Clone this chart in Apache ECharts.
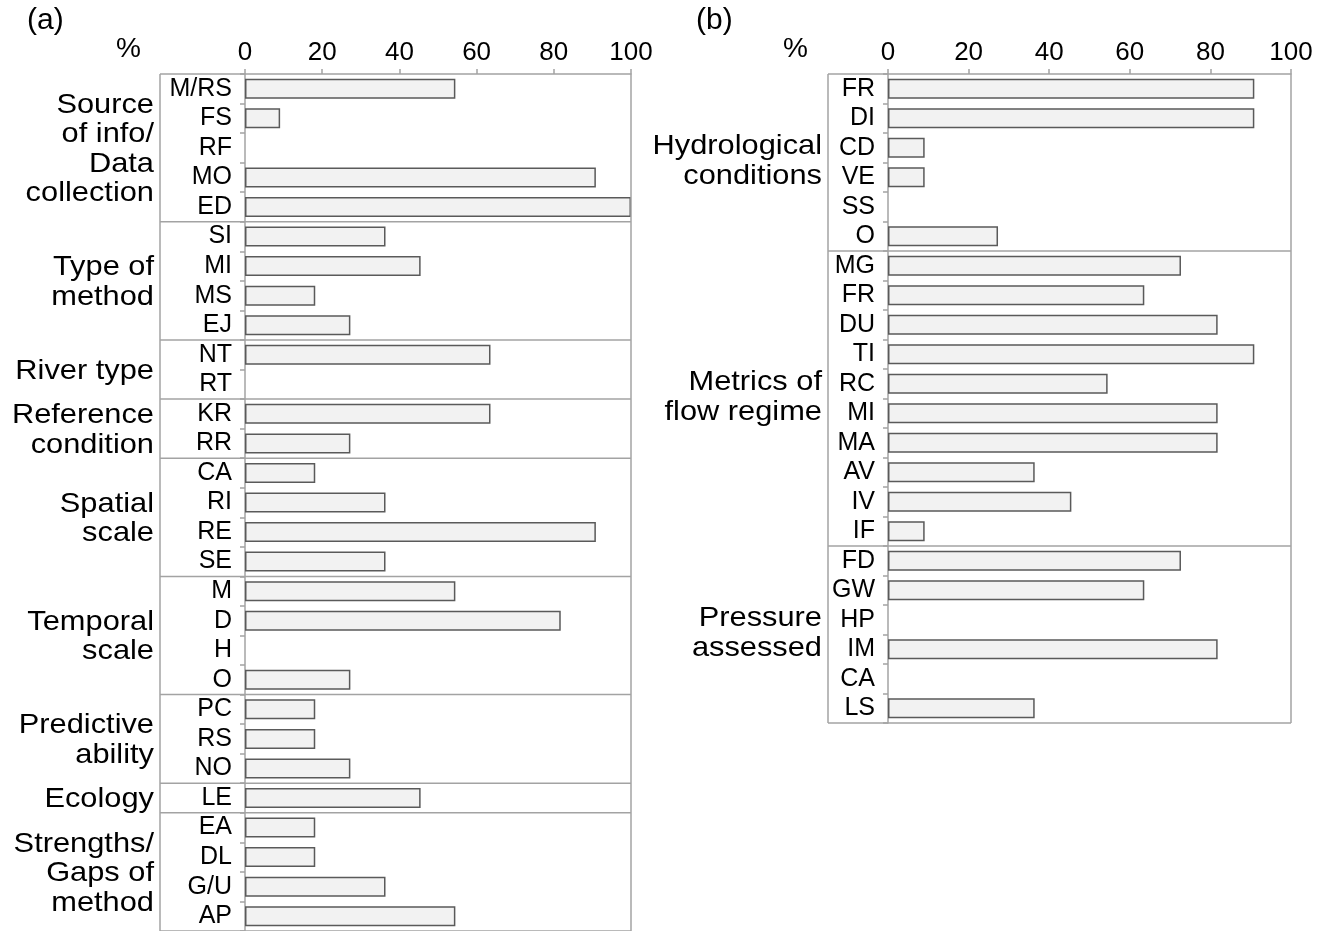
<!DOCTYPE html>
<html><head><meta charset="utf-8">
<script src="https://cdn.jsdelivr.net/npm/echarts@6/dist/echarts.min.js"></script>
<style>html,body{margin:0;padding:0;background:#fff}#c{width:1326px;height:931px}</style>
</head><body><div id="c"></div>
<script>
// ---- data ----
const catsA = ['M/RS','FS','RF','MO','ED','SI','MI','MS','EJ','NT','RT','KR','RR','CA','RI','RE','SE','M','D','H','O','PC','RS','NO','LE','EA','DL','G/U','AP'];
const valsA = [54.5,9.1,0,90.9,100,36.4,45.5,18.2,27.3,63.6,0,63.6,27.3,18.2,36.4,90.9,36.4,54.5,81.8,0,27.3,18.2,18.2,27.3,45.5,18.2,18.2,36.4,54.5];
const groupNamesA = ['Source\nof info/\nData\ncollection','Type of\nmethod','River type','Reference\ncondition','Spatial\nscale','Temporal\nscale','Predictive\nability','Ecology','Strengths/\nGaps of\nmethod'];
const groupSizesA = [5,4,2,2,4,4,3,1,4];

const catsB = ['FR','DI','CD','VE','SS','O','MG','FR','DU','TI','RC','MI','MA','AV','IV','IF','FD','GW','HP','IM','CA','LS'];
const valsB = [90.9,90.9,9.1,9.1,0,27.3,72.7,63.6,81.8,90.9,54.5,81.8,81.8,36.4,45.5,9.1,72.7,63.6,0,81.8,0,36.4];
const groupNamesB = ['Hydrological\nconditions','Metrics of\nflow regime','Pressure\nassessed'];
const groupSizesB = [6,10,6];

const xMin = 0, xMax = 100, xStep = 20;
const panelLabels = ['(a)','(b)'];
const unitLabel = '%';

// ---- style ----
const FONT = '"Liberation Sans", Arial, sans-serif';
const LINE = '#a3a3a3';
const TXT = '#000';

const chart = echarts.init(document.getElementById('c'), null, {renderer:'canvas'});

function xAx(gi){
  return {type:'value', gridIndex:gi, position:'top', min:xMin, max:xMax, interval:xStep,
    axisLine:{show:true, lineStyle:{color:LINE, width:1.5}},
    axisTick:{show:true, length:5, lineStyle:{color:LINE, width:1.5}},
    axisLabel:{fontFamily:FONT, fontSize:26, color:TXT, margin:8},
    splitLine:{show:false}};
}
function yAx(gi, cats){
  return {type:'category', gridIndex:gi, data:cats, inverse:true,
    axisLine:{show:true, lineStyle:{color:LINE, width:1.5}},
    axisTick:{show:true, length:5, lineStyle:{color:LINE, width:1.5}},
    axisLabel:{fontFamily:FONT, fontSize:25, color:TXT, margin:13, interval:0},
    splitLine:{show:false}};
}
function barS(gi, vals){
  return {type:'bar', xAxisIndex:gi, yAxisIndex:gi, barWidth:20, silent:true,
    data: vals.map(v => v === 0 ? {value:v, itemStyle:{borderWidth:0}} : v),
    itemStyle:{color:'#f2f2f2', borderColor:'#5a5a5a', borderWidth:1.5}};
}

chart.setOption({
  animation:false,
  backgroundColor:'#fff',
  title:[
    {text:panelLabels[0], left:27, top:6, padding:0, textStyle:{fontFamily:FONT, fontSize:30, fontWeight:'normal', color:TXT}},
    {text:panelLabels[1], left:696, top:6, padding:0, textStyle:{fontFamily:FONT, fontSize:30, fontWeight:'normal', color:TXT}},
    {text:unitLabel, left:116, top:35, padding:0, textStyle:{fontFamily:FONT, fontSize:28, fontWeight:'normal', color:TXT}},
    {text:unitLabel, left:783, top:35, padding:0, textStyle:{fontFamily:FONT, fontSize:28, fontWeight:'normal', color:TXT}}
  ],
  grid:[
    {left:245, top:74, width:386, height:858, containLabel:false},
    {left:888, top:74, width:403, height:649, containLabel:false}
  ],
  xAxis:[xAx(0), xAx(1)],
  yAxis:[yAx(0, catsA), yAx(1, catsB)],
  series:[barS(0, valsA), barS(1, valsB)]
});

function decor(gi, cats, sizes, names, boxPad, dy){
  const els = [];
  const yc = i => chart.convertToPixel({yAxisIndex:gi}, i);
  const x0 = chart.convertToPixel({xAxisIndex:gi}, xMin);
  const x1 = chart.convertToPixel({xAxisIndex:gi}, xMax);
  const half = (yc(1) - yc(0)) / 2;
  const top = yc(0) - half, bottom = yc(cats.length - 1) + half;
  const bl = x0 - boxPad;
  const ls = {stroke:LINE, lineWidth:1.5};
  const line = (a,b,c,d) => els.push({type:'line', silent:true, z:5, shape:{x1:a,y1:b,x2:c,y2:d}, style:ls});
  line(bl, top, x0, top);
  line(bl, top, bl, bottom);
  line(x1, top, x1, bottom);
  line(bl, bottom, x1, bottom);
  let k = 0;
  sizes.forEach((s, gIdx) => {
    const first = k, last = k + s - 1;
    if (gIdx > 0) { const y = yc(first) - half; line(bl, y, x1, y); }
    const cy = (yc(first) + yc(last)) / 2;
    els.push({type:'text', silent:true, z:6, x:bl - 6, y:cy + dy, scaleX:1.1, scaleY:1,
      style:{text:names[gIdx], x:0, y:0, align:'right', verticalAlign:'middle',
        font:'28px ' + FONT, lineHeight:29.5, fill:TXT}});
    k += s;
  });
  return els;
}

chart.setOption({graphic:{elements:[
  ...decor(0, catsA, groupSizesA, groupNamesA, 85, 1.5),
  ...decor(1, catsB, groupSizesB, groupNamesB, 60, -1)
]}});
</script></body></html>
